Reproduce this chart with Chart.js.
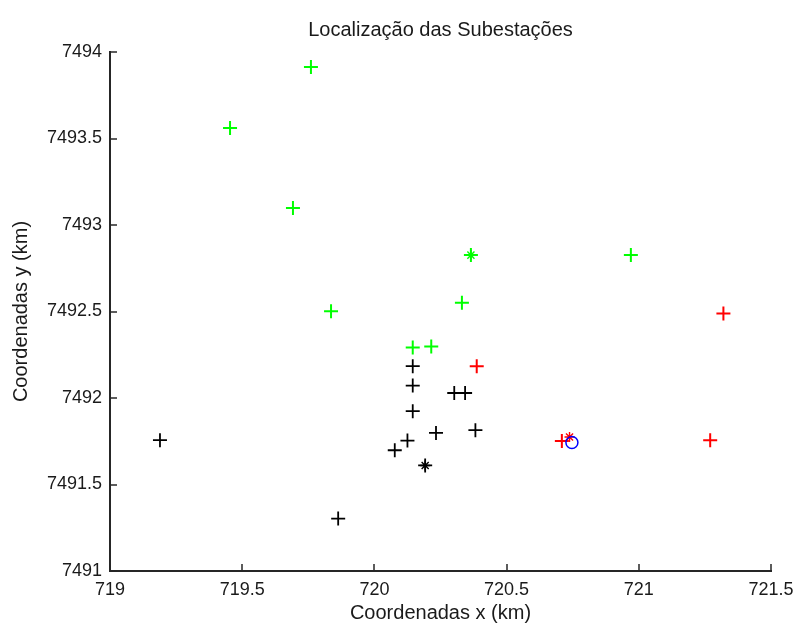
<!DOCTYPE html>
<html>
<head>
<meta charset="utf-8">
<script src="https://cdn.jsdelivr.net/npm/chart.js@4/dist/chart.umd.min.js"></script>
<style>
  html, body { margin: 0; padding: 0; background: #fff; }
  #wrap { width: 797px; height: 623px; }
</style>
</head>
<body>
<div id="wrap"><canvas id="chart" width="797" height="623"></canvas></div>
<script>
// substation coordinates (km)
const greenX = [719.760, 719.454, 719.692, 719.836, 720.365, 720.970, 720.331, 720.145, 720.215]
const greenY = [7493.913, 7493.560, 7493.098, 7492.502, 7492.826, 7492.826, 7492.550, 7492.292, 7492.298]
const greenStarX = [720.365]
const greenStarY = [7492.826]

const redX = [721.320, 720.387, 720.709, 721.270]
const redY = [7492.489, 7492.184, 7491.752, 7491.756]
const redStarX = [720.738]
const redStarY = [7491.775]

const blackX = [719.189, 720.145, 720.145, 720.145, 720.302, 720.343, 720.233, 720.382, 720.125, 720.077, 720.192, 719.863]
const blackY = [7491.756, 7492.184, 7492.072, 7491.924, 7492.029, 7492.029, 7491.798, 7491.814, 7491.754, 7491.698, 7491.610, 7491.303]
const blackStarX = [720.192]
const blackStarY = [7491.610]

const blueX = [720.747]
const blueY = [7491.743]

const xTicks = [719, 719.5, 720, 720.5, 721, 721.5]
const yTicks = [7491, 7491.5, 7492, 7492.5, 7493, 7493.5, 7494]

const pts = (xs, ys) => xs.map((x, i) => ({ x: x, y: ys[i] }))

const txt = '#1a1a1a'
const axisCol = '#262626'
const fam = 'Liberation Sans, Arial, sans-serif'

const marker = (data, color, style, r, w) => ({
  data: data,
  pointStyle: style,
  radius: r,
  hoverRadius: r,
  borderColor: color,
  backgroundColor: 'transparent',
  pointBorderWidth: w,
  borderWidth: w,
  showLine: false
})

// inward tick marks like the matlab axes
const innerTicks = {
  id: 'innerTicks',
  afterDraw(chart) {
    const { ctx, chartArea, scales } = chart
    ctx.save()
    ctx.strokeStyle = axisCol
    ctx.lineWidth = 1.5
    xTicks.forEach(v => {
      const px = Math.round(scales.x.getPixelForValue(v))
      ctx.beginPath()
      ctx.moveTo(px, chartArea.bottom)
      ctx.lineTo(px, chartArea.bottom - 7)
      ctx.stroke()
    })
    yTicks.forEach(v => {
      const py = Math.round(scales.y.getPixelForValue(v))
      ctx.beginPath()
      ctx.moveTo(chartArea.left, py)
      ctx.lineTo(chartArea.left + 7, py)
      ctx.stroke()
    })
    ctx.restore()
  }
}

new Chart(document.getElementById('chart'), {
  type: 'scatter',
  data: {
    datasets: [
      marker(pts(blueX, blueY), '#0000ff', 'circle', 6, 1.5),
      marker(pts(redStarX, redStarY), '#ff0000', 'star', 5, 1.4),
      marker(pts(greenStarX, greenStarY), '#00ff00', 'star', 5, 1.4),
      marker(pts(blackStarX, blackStarY), '#000000', 'star', 5, 1.4),
      marker(pts(greenX, greenY), '#00ff00', 'cross', 7, 2),
      marker(pts(redX, redY), '#ff0000', 'cross', 7, 2),
      marker(pts(blackX, blackY), '#000000', 'cross', 7, 1.8)
    ]
  },
  options: {
    responsive: false,
    animation: false,
    devicePixelRatio: 1,
    layout: { padding: { left: 0, right: 26, top: 0, bottom: 0 } },
    plugins: {
      legend: { display: false },
      tooltip: { enabled: false },
      title: {
        display: true,
        fullSize: false,
        text: 'Localização das Subestações',
        color: txt,
        font: { family: fam, size: 20, weight: 'normal', lineHeight: 1.2 },
        padding: { top: 18, bottom: 10 }
      }
    },
    scales: {
      x: {
        type: 'linear',
        min: 719,
        max: 721.5,
        afterBuildTicks: s => { s.ticks = xTicks.map(v => ({ value: v })) },
        afterFit: s => { s.height = 52; s.paddingLeft = 0; s.paddingRight = 0 },
        grid: { drawOnChartArea: false, drawTicks: false },
        border: { display: true, color: axisCol, width: 2 },
        ticks: {
          padding: 8,
          color: txt,
          maxRotation: 0,
          autoSkip: false,
          font: { family: fam, size: 18 },
          callback: v => String(v)
        },
        title: {
          display: true,
          text: 'Coordenadas x (km)',
          color: txt,
          padding: { top: 0, bottom: -2 },
          font: { family: fam, size: 20, lineHeight: 1.2 }
        }
      },
      y: {
        type: 'linear',
        min: 7491,
        max: 7494,
        afterBuildTicks: s => { s.ticks = yTicks.map(v => ({ value: v })) },
        afterFit: s => { s.width = 110; s.paddingTop = 0; s.paddingBottom = 0 },
        grid: { drawOnChartArea: false, drawTicks: false },
        border: { display: true, color: axisCol, width: 2 },
        ticks: {
          padding: 8,
          color: txt,
          autoSkip: false,
          font: { family: fam, size: 18 },
          callback: v => String(v)
        },
        title: {
          display: true,
          text: 'Coordenadas y (km)',
          color: txt,
          padding: { top: 9, bottom: 0 },
          font: { family: fam, size: 20, lineHeight: 1.2 }
        }
      }
    }
  },
  plugins: [innerTicks]
})
</script>
</body>
</html>
